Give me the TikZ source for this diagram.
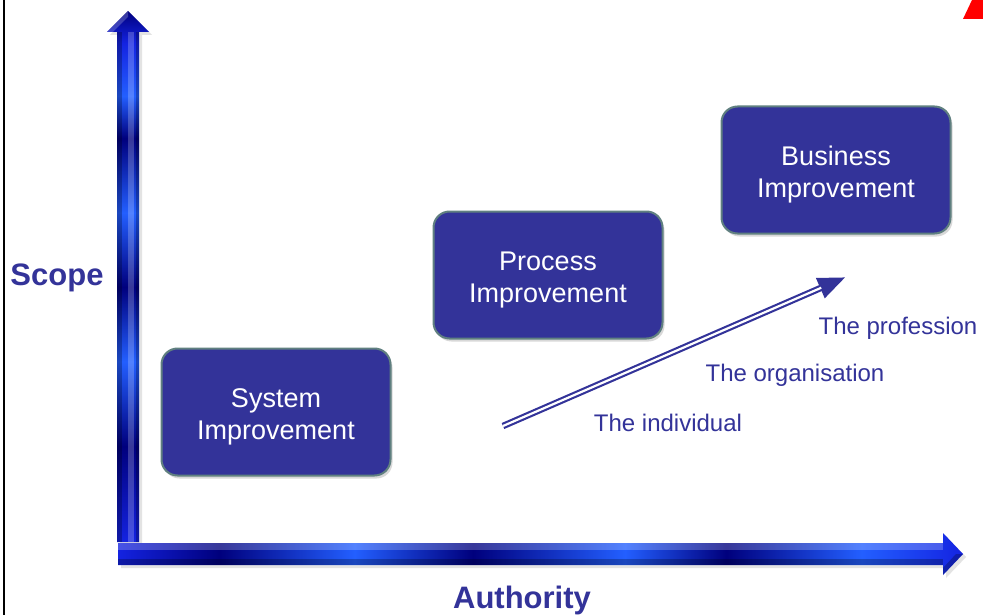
\documentclass[tikz,border=0pt]{standalone}
\usepackage{fontspec}
\setmainfont{Liberation Sans}
\usetikzlibrary{arrows.meta,shadows}
\definecolor{navy}{RGB}{51,51,153}
\definecolor{boxedge}{RGB}{96,128,128}
\definecolor{axb}{RGB}{35,95,255}
\definecolor{axm}{RGB}{20,35,225}
\definecolor{axd}{RGB}{0,0,125}
\definecolor{axshadow}{RGB}{200,200,200}
\pgfdeclarehorizontalshading{haxshade}{100bp}{color(0bp)=(axm); color(25bp)=(axm); color(31bp)=(axd); color(39bp)=(axb); color(46bp)=(axd); color(55bp)=(axb); color(61bp)=(axd); color(69bp)=(axb); color(75bp)=(axm); color(100bp)=(axm)}
\pgfdeclareverticalshading{vaxshade}{100bp}{color(0bp)=(axm); color(25bp)=(axm); color(34bp)=(axd); color(42bp)=(axb); color(49bp)=(axd); color(56bp)=(axb); color(63bp)=(axd); color(67bp)=(axb); color(72bp)=(axm); color(75bp)=(axd); color(100bp)=(axd)}
\newcommand{\twolines}[2]{\raisebox{-5pt}[\height][\depth]{\begin{tabular}{@{}c@{}}#1\\#2\end{tabular}}}
\begin{document}
\begin{tikzpicture}[x=1pt,y=-1pt,
  impbox/.style={draw=boxedge, line width=2pt, fill=navy, rounded corners=16pt,
    minimum width=229pt, minimum height=127pt, text=white,
    font=\fontsize{27}{32}\selectfont,
    drop shadow={shadow xshift=2pt, shadow yshift=-3pt, opacity=0.3}},
  lvl/.style={text=navy, font=\fontsize{24}{28}\selectfont},
  axlabel/.style={text=navy, font=\bfseries\fontsize{31}{36}\selectfont},
  hilite/.style={fill=white, opacity=0.22},
  lolite/.style={fill=black, opacity=0.25}]
\useasboundingbox (0,0) rectangle (983,615);
\fill[white] (0,0) rectangle (983,615);
% left border and red corner
\draw[black, line width=2.5pt] (4,0) -- (4,615);
\fill[red] (963,19) -- (972,0) -- (983,0) -- (983,19) -- cycle;
% axis shadows
\fill[axshadow, opacity=0.5] (120,545) -- (120,35) -- (110,35) -- (131,14) -- (152,35) -- (142,35) -- (142,545) -- cycle;
\fill[axshadow, opacity=0.5] (121,546) -- (946,546) -- (946,536) -- (966,557) -- (946,578) -- (946,568) -- (121,568) -- cycle;
% vertical axis
\shade[shading=vaxshade]
  (117,542) -- (117,32) -- (107,32) -- (128,11) -- (149,32) -- (139,32) -- (139,542) -- cycle;
\fill[lolite] (117,32) rectangle (122,542);
\fill[hilite] (128,32) rectangle (134,542);
\fill[lolite] (136,32) rectangle (139,542);
\fill[hilite] (107,32) -- (128,11) -- (128,17) -- (113,32) -- cycle;
% horizontal axis
\shade[shading=haxshade]
  (118,543) -- (943,543) -- (943,533) -- (963,554) -- (943,575) -- (943,565) -- (118,565) -- cycle;
\fill[hilite] (118,543) rectangle (943,550);
\fill[lolite] (118,559) rectangle (943,565);
\fill[lolite] (943,575) -- (963,554) -- (956,554) -- (943,568) -- cycle;
% boxes
\node[impbox] (sys) at (276,412) {\twolines{System}{Improvement}};
\node[impbox] (proc) at (548,275) {\twolines{Process}{Improvement}};
\node[impbox] (bus) at (836,170) {\twolines{Business}{Improvement}};
% axis labels
\node[axlabel] (scope) at (57,278) {Scope};
\node[axlabel] (auth) at (522,600) {Authority};
% levels
\node[lvl] (ind) at (668,423) {The individual};
\node[lvl] (org) at (795,375) {The organisation};
\node[lvl] (prof) at (898,328) {The profession};
% double arrow
\coordinate (ts) at (503,426);
\coordinate (te) at (846,277);
\draw[navy, line width=6.5pt, -{Triangle[length=28pt,width=20pt]}] (ts) -- (te);
\draw[white, line width=2.2pt, shorten >=27pt] (ts) -- (te);
\end{tikzpicture}
\end{document}
